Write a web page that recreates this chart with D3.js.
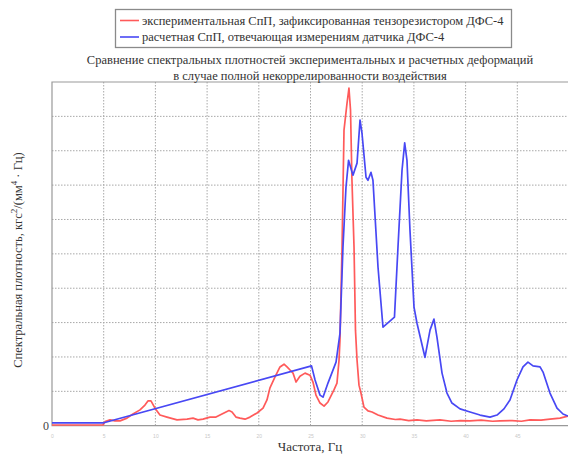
<!DOCTYPE html>
<html>
<head>
<meta charset="utf-8">
<script src="https://cdn.jsdelivr.net/npm/d3@7"></script>
<style>
  html, body { margin: 0; padding: 0; background: #fff; }
  svg { display: block; font-family: "Liberation Serif", "Times New Roman", serif; }
</style>
</head>
<body>
<svg id="chart" width="568" height="454"></svg>
<script>
// ---- data ----
const titleLines = [
  "Сравнение спектральных плотностей экспериментальных и расчетных деформаций",
  "в случае полной некоррелированности воздействия"
];
const legendLabels = [
  "экспериментальная СпП, зафиксированная тензорезистором ДФС-4",
  "расчетная СпП, отвечающая измерениям датчика ДФС-4"
];
const xTickValues = [0, 5, 10, 15, 20, 25, 30, 35, 40, 45, 50];
const xTickLabelValues = [0, 5, 10, 15, 20, 25, 30, 35, 40, 45];
const yTickValues = [0, 1, 2, 3, 4, 5, 6, 7, 8, 9, 10];
const yTickLabels = ["0", "", "", "", "", "", "", "", "", "", ""];

const redFreq = [0, 4.93, 5.13, 5.61, 6.09, 6.58, 7.25, 7.83, 8.51, 8.99, 9.28, 9.57, 9.96, 10.44, 11.12, 12.09,
  13.06, 13.64, 14.12, 14.6, 15.28, 15.86, 16.44, 17.12, 17.41, 17.79, 18.18, 18.67, 19.15, 19.83, 20.41,
  20.79, 21.08, 21.57, 22.05, 22.44, 22.73, 23.02, 23.31, 23.6, 23.98, 24.47, 24.95, 25.24, 25.53, 25.92,
  26.31, 26.69, 27.27, 27.56, 27.76, 27.85, 28.05, 28.24, 28.53, 28.72, 28.87, 29.01, 29.21, 29.35, 29.5,
  29.69, 29.88, 30.17, 30.56, 30.95, 31.53, 32.4, 33.2, 33.66, 34.5, 35.3, 36.2, 37.52, 38.6, 39.5, 40.43,
  41.5, 42.6, 43.33, 44.5, 45.4, 46.23, 47.3, 48.16, 49.13, 49.9];
const redVal = [0.02, 0.02, 0.12, 0.17, 0.14, 0.14, 0.22, 0.34, 0.46, 0.6, 0.72, 0.72, 0.51, 0.31, 0.25, 0.17,
  0.19, 0.22, 0.17, 0.19, 0.25, 0.25, 0.34, 0.44, 0.4, 0.25, 0.22, 0.19, 0.25, 0.37, 0.51,
  0.75, 1.1, 1.42, 1.71, 1.79, 1.71, 1.62, 1.53, 1.27, 1.44, 1.53, 1.47, 1.27, 0.89, 0.66,
  0.57, 0.69, 1.04, 1.24, 1.91, 2.49, 5.19, 8.6, 9.38, 9.82, 9.18, 7.14, 5.19, 2.78, 1.91,
  1.18, 0.95, 0.54, 0.43, 0.4, 0.31, 0.22, 0.18, 0.19, 0.15, 0.17, 0.14, 0.17, 0.13, 0.15, 0.14,
  0.16, 0.13, 0.14, 0.15, 0.13, 0.17, 0.16, 0.19, 0.22, 0.28];

const blueFreq = [0, 4.93, 25.1, 25.44, 25.92, 26.21, 26.69, 27.47, 27.85, 28.14, 28.43, 28.68, 28.82, 29.11,
  29.5, 29.79, 29.98, 30.37, 30.56, 30.85, 31.04, 31.53, 32.01, 33.12, 33.46, 33.85, 34.11, 34.33, 34.62,
  35.01, 35.3, 36.07, 36.56, 36.94, 37.23, 37.72, 38.2, 38.68, 39.46, 40.43, 41.39, 42.36, 43.04, 43.71,
  44.29, 44.97, 45.55, 46.03, 46.52, 47.2, 47.49, 48.16, 48.84, 49.42, 49.9];
const blueVal = [0.08, 0.08, 1.74, 1.33, 0.89, 0.83, 1.24, 1.85, 2.69, 5.19, 6.93, 7.72, 7.58, 7.29,
  7.64, 8.89, 8.51, 7.23, 7.14, 7.37, 7.14, 4.61, 2.87, 3.16, 5.19, 7.43, 8.23, 7.72, 5.69,
  3.45, 2.98, 1.99, 2.78, 3.1, 2.58, 1.53, 0.95, 0.66, 0.49, 0.4, 0.31, 0.25, 0.31, 0.49,
  0.75, 1.33, 1.71, 1.85, 1.74, 1.71, 1.56, 0.95, 0.51, 0.34, 0.28];

const xLabel = "Частота, Гц";

// ---- layout ----
const svg = d3.select("#chart");
const W = 568, H = 454;
const plot = { left: 52, right: 569, top: 82, bottom: 425.7 };

svg.append("rect").attr("width", W).attr("height", H).attr("fill", "#fff");

const x = d3.scaleLinear().domain([0, 50]).range([plot.left, plot.right]);
const y = d3.scaleLinear().domain([0, 10]).range([plot.bottom, plot.top]);

// grid
const grid = svg.append("g");
grid.selectAll("line.v").data(xTickValues.slice(1, -1)).join("line")
  .attr("x1", d => x(d)).attr("x2", d => x(d))
  .attr("y1", plot.top).attr("y2", plot.bottom)
  .attr("stroke", "#a8a8a8").attr("stroke-width", 1).attr("stroke-dasharray", "1.5,1.5");
grid.selectAll("line.h").data(yTickValues.slice(1, -1)).join("line")
  .attr("x1", plot.left).attr("x2", plot.right)
  .attr("y1", d => y(d)).attr("y2", d => y(d))
  .attr("stroke", "#a8a8a8").attr("stroke-width", 1).attr("stroke-dasharray", "1.5,1.5");

// box (top, left, bottom)
svg.append("path")
  .attr("d", `M${plot.right},${plot.top}H${plot.left}V${plot.bottom}H${plot.right}`)
  .attr("fill", "none").attr("stroke", "#999").attr("stroke-width", 1.2);

// axes with d3 axis generators
const xAxis = svg.append("g").attr("transform", `translate(0,${plot.bottom})`)
  .call(d3.axisBottom(x).tickValues(xTickLabelValues).tickSize(0).tickPadding(9).tickFormat(d3.format("d")));
xAxis.select(".domain").remove();
xAxis.selectAll("text").attr("font-family", "Liberation Sans, sans-serif")
  .attr("font-size", 5).attr("fill", "#c8c8c8");

const yAxis = svg.append("g").attr("transform", `translate(${plot.left},0)`)
  .call(d3.axisLeft(y).tickValues(yTickValues).tickSize(0).tickPadding(3)
    .tickFormat((d, i) => yTickLabels[i]));
yAxis.select(".domain").remove();
yAxis.selectAll("text").attr("font-family", "Liberation Serif, serif")
  .attr("font-size", 12).attr("fill", "#444");

// lines
const line = d3.line().x(d => x(d[0])).y(d => y(d[1]));
const redData = redFreq.map((f, i) => [f, redVal[i]]);
const blueData = blueFreq.map((f, i) => [f, blueVal[i]]);

svg.append("defs").append("clipPath").attr("id", "clip")
  .append("rect").attr("x", plot.left).attr("y", plot.top - 2)
  .attr("width", plot.right - plot.left).attr("height", plot.bottom - plot.top + 4);

const lines = svg.append("g").attr("clip-path", "url(#clip)");
lines.append("path").datum(redData).attr("d", line)
  .attr("fill", "none").attr("stroke", "#ff5a5a").attr("stroke-width", 1.7)
  .attr("stroke-linejoin", "round");
lines.append("path").datum(blueData).attr("d", line)
  .attr("fill", "none").attr("stroke", "#4848f4").attr("stroke-width", 1.7)
  .attr("stroke-linejoin", "round");

// axis labels
svg.append("text").attr("x", 310).attr("y", 451)
  .attr("text-anchor", "middle").attr("font-size", 13).attr("fill", "#333")
  .text(xLabel);

const yl = svg.append("text").attr("transform", "translate(22,260) rotate(-90)")
  .attr("text-anchor", "middle").attr("font-size", 12.5).attr("fill", "#333");
yl.append("tspan").text("Спектральная плотность, кгс");
yl.append("tspan").attr("dy", -5).attr("font-size", 9).text("2");
yl.append("tspan").attr("dy", 5).text("/(мм");
yl.append("tspan").attr("dy", -5).attr("font-size", 9).text("4");
yl.append("tspan").attr("dy", 5).text(" · Гц)");

// title
svg.selectAll("text.title").data(titleLines).join("text")
  .attr("class", "title")
  .attr("x", 310).attr("y", (d, i) => 64 + i * 16)
  .attr("text-anchor", "middle").attr("font-size", 12.5).attr("fill", "#333")
  .text(d => d);

// legend
const lg = svg.append("g");
lg.append("rect").attr("x", 115.5).attr("y", 9.5).attr("width", 396).attr("height", 38)
  .attr("fill", "#fff").attr("stroke", "#8a8a8a").attr("stroke-width", 1.3);
const legendColors = ["#ff5a5a", "#4848f4"];
legendLabels.forEach((t, i) => {
  const yy = 20.5 + i * 16.5;
  lg.append("line").attr("x1", 120).attr("x2", 139).attr("y1", yy).attr("y2", yy)
    .attr("stroke", legendColors[i]).attr("stroke-width", 1.6);
  lg.append("text").attr("x", 142).attr("y", yy + 4)
    .attr("font-size", 12.5).attr("fill", "#333").text(t);
});
</script>
</body>
</html>
